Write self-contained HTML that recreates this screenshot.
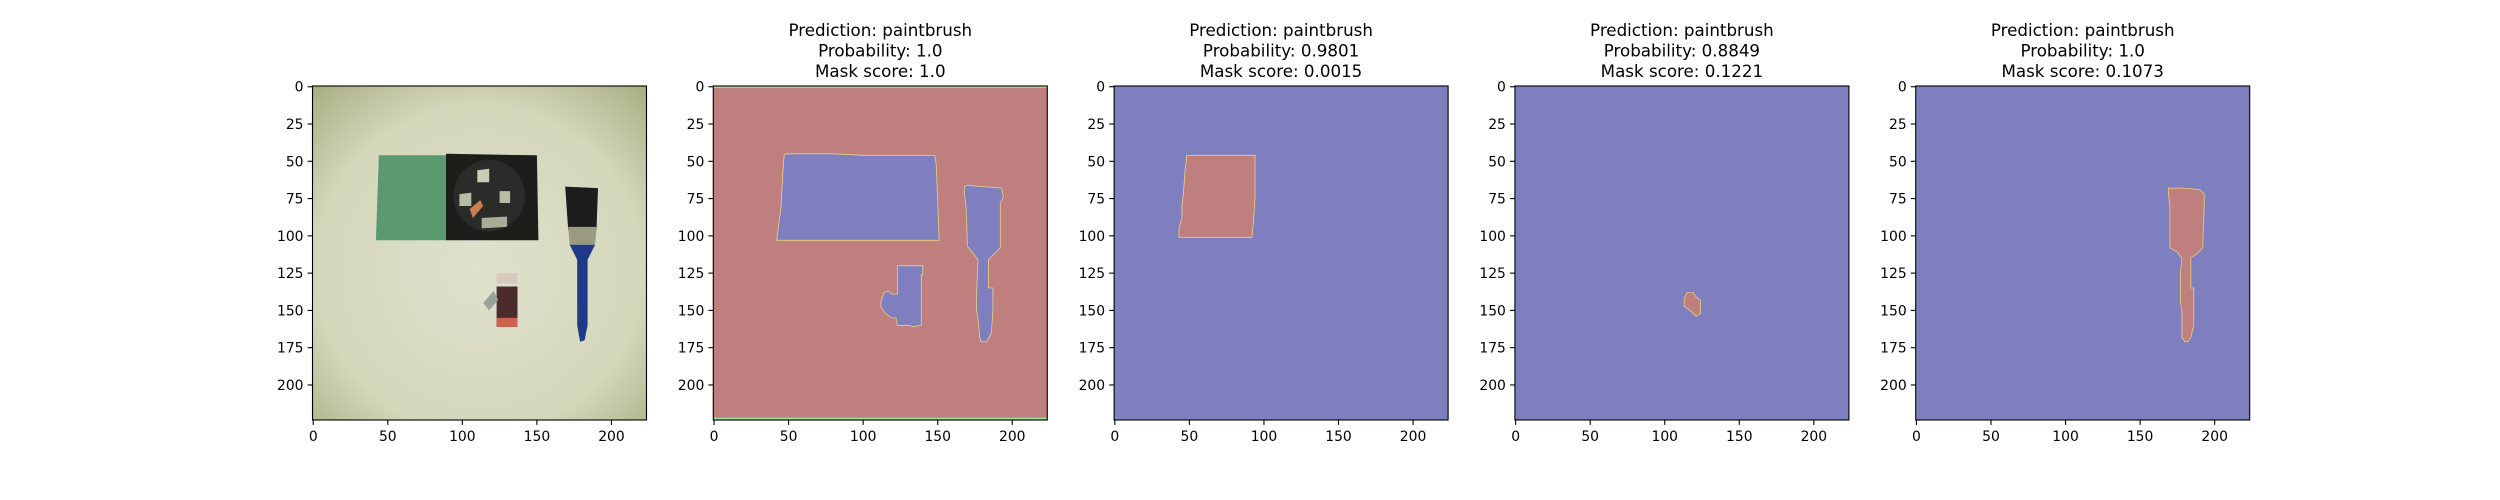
<!DOCTYPE html>
<html><head><meta charset="utf-8">
<style>
html,body{margin:0;padding:0;background:#fff;}
svg{display:block;font-family:"DejaVu Sans","Liberation Sans",sans-serif;}
</style></head>
<body>
<svg id="fig" xmlns="http://www.w3.org/2000/svg" width="2500" height="500" viewBox="0 0 2500 500">
<rect width="2500" height="500" fill="#fff"/>
</svg>
<script>
// ---- data ----
const panelLefts = [312.5, 713.3, 1114.1, 1514.9, 1915.7];
const titlesPred = ["", "Prediction: paintbrush", "Prediction: paintbrush", "Prediction: paintbrush", "Prediction: paintbrush"];
const titlesProb = ["", "Probability: 1.0", "Probability: 0.9801", "Probability: 0.8849", "Probability: 1.0"];
const titlesMask = ["", "Mask score: 1.0", "Mask score: 0.0015", "Mask score: 0.1221", "Mask score: 0.1073"];
const xTicks = [0, 50, 100, 150, 200];
const yTicks = [0, 25, 50, 75, 100, 125, 150, 175, 200];
const imgSize = 224;
const bgClass = [null, "red", "blue", "blue", "blue"];
const mask1Rect = [[48,45],[80,45],[100,46],[148,46],[149,52],[151,103],[42,103],[43,95],[45,80],[46,60],[47,46]];
const mask1Brush = [[168,67],[170,66],[180,67],[193,68],[194,74],[192,78],[192,108],[188,112],[184,116],[184,135],[187,135],[187,150],[186,165],[183,171],[179,171],[178,167],[177,155],[176,150],[176,140],[177,116],[174,112],[170,107],[169,80],[168,72]];
const mask1Small = [[123,120],[140,120],[140,126],[139,126],[139,160],[133,161],[131,160],[123,160],[122,155],[119,155],[115,152],[112,148],[112,144],[114,138],[117,137],[119,139],[123,139]];
const mask2Rect = [[48,46],[94,46],[94,75],[93,90],[92,101],[43,101],[43,95],[45,88],[45,80],[46,72],[47,57],[48,49]];
const mask3Blob = [[116,138],[119,138],[121,141],[124,143],[124,152],[121,154],[118,151],[113,147],[113,142],[115,138]];
const mask4Brush = [[169,68],[180,68],[190,69],[193,72],[193,80],[192,108],[188,112],[184,115],[184,135],[186,135],[186,160],[184,168],[182,171],[180,171],[178,168],[178,150],[177,145],[177,125],[178,115],[175,111],[170,108],[170,80],[169,72]];
const panelMasks = [[], [mask1Rect, mask1Brush, mask1Small], [mask2Rect], [mask3Blob], [mask4Brush]];

// ---- helpers ----
const NS = "http://www.w3.org/2000/svg";
const svg = document.getElementById("fig");
const S = 334 / imgSize;
const TOP = 86;
function mk(tag, attrs, parent) {
  const e = document.createElementNS(NS, tag);
  for (const k in attrs) e.setAttribute(k, attrs[k]);
  (parent || svg).appendChild(e);
  return e;
}
function xScale(i, v) { return panelLefts[i] + (v + 0.5) * S; }
function yScale(v) { return TOP + (v + 0.5) * S; }
function edgeX(i, v) { return panelLefts[i] + v * S; }
function edgeY(v) { return TOP + v * S; }
const RED = "#bf7f7f", BLUE = "#7f7fbf";

function poly(i, pts, fill, g, name) {
  const p = mk("polygon", {points: pts.map(q => xScale(i, q[0]).toFixed(1) + "," + yScale(q[1]).toFixed(1)).join(" "), fill: fill}, g);
  
  
  return p;
}

function drawPhoto(g) {
  const i = 0;
  const defs = mk("defs", {}, g);
  const rg = mk("radialGradient", {id: "vig", cx: "0.5", cy: "0.55", r: "0.75"}, defs);
  mk("stop", {offset: "0", "stop-color": "#dfe1cd"}, rg);
  mk("stop", {offset: "0.65", "stop-color": "#d4d7ba"}, rg);
  mk("stop", {offset: "1", "stop-color": "#a6ac80"}, rg);
  const bg = mk("rect", {x: edgeX(i, 0), y: edgeY(0), width: imgSize * S, height: imgSize * S, fill: "url(#vig)"}, g);
  
  
  const booklet = [[44,46],[89,46],[89,103],[42,103]];
  const caseCd = [[89,45],[150,46],[151,103],[89,103]];
  const brushHead = [[169,67],[191,68],[190,96],[171,96]];
  const ferrule = [[171,94],[190,94],[189,106],[172,106]];
  const handle = [[172,106],[189,106],[184,116],[184,160],[182,170],[179,171],[177,160],[177,116]];
  const matchbox = [[123,134],[137,134],[137,161],[123,161]];
  const matchLabel = [[123,125],[137,125],[137,132],[123,132]];
  const blade = [[114,145],[121,137],[124,143],[118,150]];
  poly(i, booklet, "#5b9a70", g, "photo-green-booklet");
  poly(i, caseCd, "#1c1e1a", g, "photo-cd-case");
  mk("circle", {cx: xScale(i, 118), cy: yScale(73), r: 24 * S, fill: "#2a2c2a"}, g);
  poly(i, [[105,82],[112,76],[114,80],[107,88]], "#c98050", g, "photo-cd-rainbow");
  poly(i, [[110,56],[118,55],[118,64],[110,64]], "#c9cdb4", g, "photo-cd-sticker-1");
  poly(i, [[98,72],[106,71],[106,80],[98,80]], "#b8bca4", g, "photo-cd-sticker-2");
  poly(i, [[125,70],[132,70],[132,78],[125,78]], "#b8bca4", g, "photo-cd-sticker-3");
  poly(i, [[113,88],[130,87],[130,94],[113,95]], "#a8ac98", g, "photo-cd-sticker-4");
  poly(i, brushHead, "#1c1c1c", g, "photo-brush-bristles");
  poly(i, ferrule, "#9a9a80", g, "photo-brush-ferrule");
  poly(i, handle, "#203a8a", g, "photo-brush-handle");
  poly(i, matchLabel, "#d8c8c0", g, "photo-match-label");
  poly(i, matchbox, "#4a2c2c", g, "photo-matchbox");
  poly(i, [[123,155],[137,155],[137,161],[123,161]], "#d06050", g, "photo-matchbox-end");
  poly(i, blade, "#9aa09a", g, "photo-razor-blade");
}

for (let i = 0; i < panelLefts.length; i++) {
  const g = mk("g", {});
  
  
  if (i === 0) {
    drawPhoto(g);
  } else {
    const bgc = bgClass[i] === "red" ? RED : BLUE;
    const fg = bgClass[i] === "red" ? BLUE : RED;
    const bg = mk("rect", {x: edgeX(i, 0), y: edgeY(0), width: imgSize * S, height: imgSize * S, fill: bgc}, g);
    
    
    panelMasks[i].forEach((m, k) => {
      const p = poly(i, m, fg, g, 'mask-region-' + (k + 1));
      p.setAttribute("stroke", "#e8d080");
      p.setAttribute("stroke-width", "0.8");
    });
    if (i === 1) {
      mk("line", {x1: edgeX(i, 0), x2: edgeX(i, imgSize), y1: edgeY(0) + 1, y2: edgeY(0) + 1, stroke: "#a0e8a0", "stroke-width": 1.5}, g);
      mk("line", {x1: edgeX(i, 0), x2: edgeX(i, imgSize), y1: edgeY(imgSize) - 1.5, y2: edgeY(imgSize) - 1.5, stroke: "#a0e8a0", "stroke-width": 1.5}, g);
    }
    const cx = edgeX(i, imgSize / 2);
    [titlesPred[i], titlesProb[i], titlesMask[i]].forEach((t, k) => {
      const tx = mk("text", {x: cx, y: 36 + k * 20.5, "text-anchor": "middle", "font-size": "16.7", fill: "#000"}, g);
      tx.textContent = t;
      
      
    });
  }
  const fr = mk("rect", {x: edgeX(i, 0), y: edgeY(0), width: imgSize * S, height: imgSize * S, fill: "none", stroke: "#000", "stroke-width": 1.1}, g);
  
  
  xTicks.forEach(v => {
    const x = xScale(i, v), y0 = edgeY(imgSize);
    const tl = mk("line", {x1: x, x2: x, y1: y0, y2: y0 + 4.9, stroke: "#000", "stroke-width": 1.1}, g);
    
    
    const tt = mk("text", {x: x, y: y0 + 21, "text-anchor": "middle", "font-size": "13.9", fill: "#000"}, g);
    tt.textContent = String(v);
    
    
  });
  yTicks.forEach(v => {
    const y = yScale(v), x0 = edgeX(i, 0);
    const tl = mk("line", {x1: x0 - 4.9, x2: x0, y1: y, y2: y, stroke: "#000", "stroke-width": 1.1}, g);
    
    
    const tt = mk("text", {x: x0 - 9, y: y + 5, "text-anchor": "end", "font-size": "13.9", fill: "#000"}, g);
    tt.textContent = String(v);
    
    
  });
}
</script>
</body></html>
